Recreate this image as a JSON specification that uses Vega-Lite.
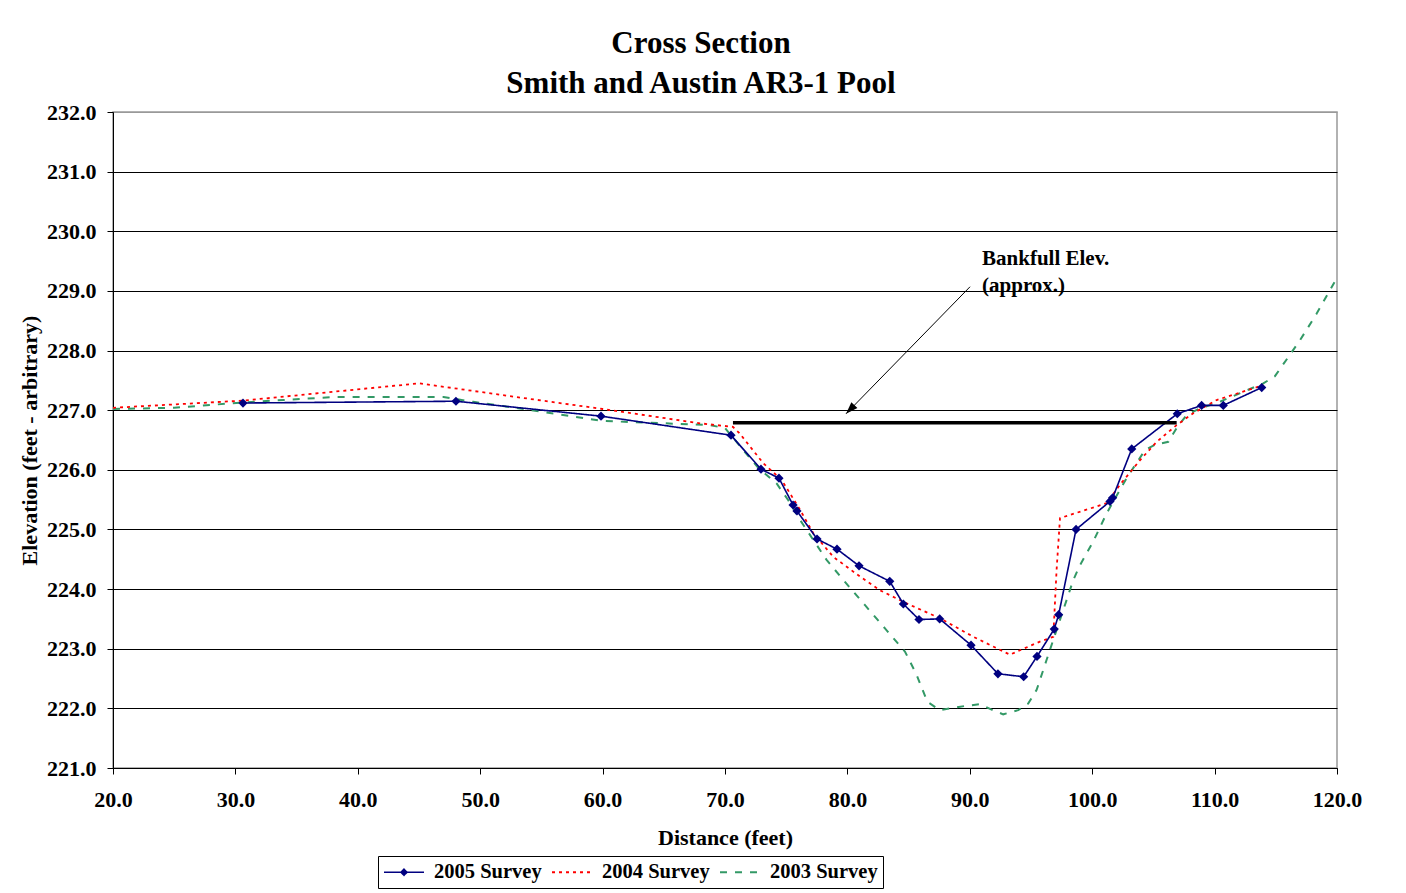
{
  "$schema": "https://vega.github.io/schema/vega-lite/v6.json",
  "width": 1224,
  "height": 656,
  "autosize": {"type": "none"},
  "padding": {"left": 113, "top": 112, "right": 69, "bottom": 125},
  "background": "white",
  "title": {
    "text": ["Cross Section", "Smith and Austin AR3-1 Pool"],
    "font": "Liberation Serif",
    "fontSize": 31,
    "fontWeight": "bold",
    "lineHeight": 40,
    "anchor": "middle",
    "offset": 1,
    "dx": -24,
    "color": "black"
  },
  "config": {
    "view": {"stroke": "#999999", "strokeWidth": 1.5},
    "axis": {
      "labelFont": "Liberation Serif",
      "labelFontSize": 22,
      "labelFontWeight": "bold",
      "labelColor": "black",
      "titleFont": "Liberation Serif",
      "titleFontSize": 22,
      "titleFontWeight": "bold",
      "titleColor": "black",
      "domainColor": "black",
      "tickColor": "black",
      "tickSize": 6
    },
    "legend": {
      "labelFont": "Liberation Serif",
      "labelFontSize": 20.5,
      "labelFontWeight": "bold",
      "labelColor": "black"
    }
  },
  "datasets": {
    "surveys": [
      {"survey": "2003 Survey", "d": 20.0, "e": 227.02},
      {"survey": "2003 Survey", "d": 25.0, "e": 227.04},
      {"survey": "2003 Survey", "d": 30.6, "e": 227.13},
      {"survey": "2003 Survey", "d": 38.0, "e": 227.22},
      {"survey": "2003 Survey", "d": 47.0, "e": 227.22},
      {"survey": "2003 Survey", "d": 49.43, "e": 227.14},
      {"survey": "2003 Survey", "d": 51.86, "e": 227.07},
      {"survey": "2003 Survey", "d": 60.0, "e": 226.82},
      {"survey": "2003 Survey", "d": 68.77, "e": 226.75},
      {"survey": "2003 Survey", "d": 70.0, "e": 226.70},
      {"survey": "2003 Survey", "d": 71.5, "e": 226.33},
      {"survey": "2003 Survey", "d": 72.73, "e": 226.03},
      {"survey": "2003 Survey", "d": 74.22, "e": 225.77},
      {"survey": "2003 Survey", "d": 75.17, "e": 225.49},
      {"survey": "2003 Survey", "d": 76.13, "e": 225.16},
      {"survey": "2003 Survey", "d": 76.94, "e": 224.91},
      {"survey": "2003 Survey", "d": 78.3, "e": 224.49},
      {"survey": "2003 Survey", "d": 79.8, "e": 224.12},
      {"survey": "2003 Survey", "d": 81.44, "e": 223.73},
      {"survey": "2003 Survey", "d": 83.07, "e": 223.34},
      {"survey": "2003 Survey", "d": 84.71, "e": 222.95},
      {"survey": "2003 Survey", "d": 85.66, "e": 222.56},
      {"survey": "2003 Survey", "d": 86.53, "e": 222.11},
      {"survey": "2003 Survey", "d": 87.56, "e": 221.97},
      {"survey": "2003 Survey", "d": 89.6, "e": 222.04},
      {"survey": "2003 Survey", "d": 90.83, "e": 222.07},
      {"survey": "2003 Survey", "d": 91.78, "e": 221.98},
      {"survey": "2003 Survey", "d": 92.73, "e": 221.9},
      {"survey": "2003 Survey", "d": 93.96, "e": 221.97},
      {"survey": "2003 Survey", "d": 94.77, "e": 222.08},
      {"survey": "2003 Survey", "d": 95.46, "e": 222.31},
      {"survey": "2003 Survey", "d": 96.27, "e": 222.81},
      {"survey": "2003 Survey", "d": 97.36, "e": 223.48},
      {"survey": "2003 Survey", "d": 98.45, "e": 224.15},
      {"survey": "2003 Survey", "d": 99.0, "e": 224.4},
      {"survey": "2003 Survey", "d": 100.09, "e": 224.8},
      {"survey": "2003 Survey", "d": 101.18, "e": 225.27},
      {"survey": "2003 Survey", "d": 102.81, "e": 225.86},
      {"survey": "2003 Survey", "d": 104.31, "e": 226.33},
      {"survey": "2003 Survey", "d": 105.13, "e": 226.42},
      {"survey": "2003 Survey", "d": 106.22, "e": 226.47},
      {"survey": "2003 Survey", "d": 106.9, "e": 226.7},
      {"survey": "2003 Survey", "d": 107.72, "e": 226.92},
      {"survey": "2003 Survey", "d": 108.8, "e": 227.03},
      {"survey": "2003 Survey", "d": 110.17, "e": 227.12},
      {"survey": "2003 Survey", "d": 113.98, "e": 227.45},
      {"survey": "2003 Survey", "d": 114.93, "e": 227.57},
      {"survey": "2003 Survey", "d": 116.97, "e": 228.17},
      {"survey": "2003 Survey", "d": 118.34, "e": 228.62},
      {"survey": "2003 Survey", "d": 120.0, "e": 229.22},
      {"survey": "2004 Survey", "d": 20.0, "e": 227.04},
      {"survey": "2004 Survey", "d": 30.6, "e": 227.16},
      {"survey": "2004 Survey", "d": 45.03, "e": 227.45},
      {"survey": "2004 Survey", "d": 52.98, "e": 227.22},
      {"survey": "2004 Survey", "d": 60.0, "e": 227.02},
      {"survey": "2004 Survey", "d": 67.96, "e": 226.78},
      {"survey": "2004 Survey", "d": 70.65, "e": 226.72},
      {"survey": "2004 Survey", "d": 71.2, "e": 226.61},
      {"survey": "2004 Survey", "d": 73.13, "e": 226.11},
      {"survey": "2004 Survey", "d": 74.63, "e": 225.83},
      {"survey": "2004 Survey", "d": 76.13, "e": 225.33},
      {"survey": "2004 Survey", "d": 77.2, "e": 224.94},
      {"survey": "2004 Survey", "d": 78.85, "e": 224.54},
      {"survey": "2004 Survey", "d": 81.03, "e": 224.21},
      {"survey": "2004 Survey", "d": 82.66, "e": 223.98},
      {"survey": "2004 Survey", "d": 84.84, "e": 223.76},
      {"survey": "2004 Survey", "d": 87.57, "e": 223.51},
      {"survey": "2004 Survey", "d": 90.29, "e": 223.2},
      {"survey": "2004 Survey", "d": 93.28, "e": 222.9},
      {"survey": "2004 Survey", "d": 95.73, "e": 223.12},
      {"survey": "2004 Survey", "d": 96.82, "e": 223.2},
      {"survey": "2004 Survey", "d": 97.09, "e": 224.32},
      {"survey": "2004 Survey", "d": 97.37, "e": 225.19},
      {"survey": "2004 Survey", "d": 101.18, "e": 225.44},
      {"survey": "2004 Survey", "d": 102.27, "e": 225.75},
      {"survey": "2004 Survey", "d": 103.9, "e": 226.16},
      {"survey": "2004 Survey", "d": 105.27, "e": 226.47},
      {"survey": "2004 Survey", "d": 106.9, "e": 226.75},
      {"survey": "2004 Survey", "d": 108.26, "e": 226.95},
      {"survey": "2004 Survey", "d": 110.17, "e": 227.17},
      {"survey": "2004 Survey", "d": 113.98, "e": 227.42},
      {"survey": "2005 Survey", "d": 30.62, "e": 227.12},
      {"survey": "2005 Survey", "d": 48.02, "e": 227.15},
      {"survey": "2005 Survey", "d": 59.87, "e": 226.9},
      {"survey": "2005 Survey", "d": 70.49, "e": 226.58},
      {"survey": "2005 Survey", "d": 72.94, "e": 226.01},
      {"survey": "2005 Survey", "d": 74.41, "e": 225.86},
      {"survey": "2005 Survey", "d": 75.56, "e": 225.41},
      {"survey": "2005 Survey", "d": 75.88, "e": 225.31},
      {"survey": "2005 Survey", "d": 77.52, "e": 224.84},
      {"survey": "2005 Survey", "d": 79.15, "e": 224.67},
      {"survey": "2005 Survey", "d": 80.95, "e": 224.39},
      {"survey": "2005 Survey", "d": 83.46, "e": 224.13},
      {"survey": "2005 Survey", "d": 84.57, "e": 223.75},
      {"survey": "2005 Survey", "d": 85.85, "e": 223.49},
      {"survey": "2005 Survey", "d": 87.54, "e": 223.5},
      {"survey": "2005 Survey", "d": 90.1, "e": 223.06},
      {"survey": "2005 Survey", "d": 92.3, "e": 222.58},
      {"survey": "2005 Survey", "d": 94.4, "e": 222.53},
      {"survey": "2005 Survey", "d": 95.49, "e": 222.87},
      {"survey": "2005 Survey", "d": 96.9, "e": 223.33},
      {"survey": "2005 Survey", "d": 97.26, "e": 223.57},
      {"survey": "2005 Survey", "d": 98.68, "e": 225.0},
      {"survey": "2005 Survey", "d": 101.45, "e": 225.47},
      {"survey": "2005 Survey", "d": 101.67, "e": 225.53},
      {"survey": "2005 Survey", "d": 103.23, "e": 226.35},
      {"survey": "2005 Survey", "d": 106.95, "e": 226.94},
      {"survey": "2005 Survey", "d": 108.94, "e": 227.08},
      {"survey": "2005 Survey", "d": 110.71, "e": 227.08},
      {"survey": "2005 Survey", "d": 113.85, "e": 227.38}
    ],
    "bankfull": [
      {"d": 70.65, "d2": 106.9, "e": 226.79}
    ],
    "arrow": [
      {"d": 90.02, "e": 229.07, "d2": 79.89, "e2": 226.94}
    ],
    "labels": [
      {"d": 91.0, "e": 229.43, "t": "Bankfull Elev."},
      {"d": 91.0, "e": 228.98, "t": "(approx.)"}
    ]
  },
  "layer": [
    {
      "data": {"name": "surveys"},
      "mark": {"type": "line", "clip": true},
      "encoding": {
        "x": {
          "field": "d", "type": "quantitative",
          "scale": {"domain": [20, 120], "nice": false, "zero": false},
          "axis": {
            "title": "Distance (feet)",
            "values": [20, 30, 40, 50, 60, 70, 80, 90, 100, 110, 120],
            "format": ".1f",
            "grid": false,
            "labelPadding": 15,
            "titlePadding": 17,
            "labelFlush": false
          }
        },
        "y": {
          "field": "e", "type": "quantitative",
          "scale": {"domain": [221, 232], "nice": false, "zero": false},
          "axis": {
            "title": "Elevation (feet - arbitrary)",
            "values": [221, 222, 223, 224, 225, 226, 227, 228, 229, 230, 231, 232],
            "format": ".1f",
            "grid": true,
            "gridColor": {"condition": {"test": "datum.value === 232", "value": "#999999"}, "value": "black"},
            "gridWidth": 1,
            "labelPadding": 11,
            "titlePadding": 5
          }
        },
        "color": {
          "field": "survey", "type": "nominal",
          "scale": {"domain": ["2005 Survey", "2004 Survey", "2003 Survey"], "range": ["#000080", "#FF0000", "#339966"]},
          "legend": {
            "title": null,
            "orient": "none",
            "legendX": 265,
            "legendY": 744,
            "direction": "horizontal",
            "strokeColor": "black",
            "padding": 5,
            "symbolSize": 400,
            "symbolOffset": 10,
            "symbolType": "M-2,0H2",
            "labelOffset": 19,
            "columnPadding": 6,
            "fillColor": "white",
            "encode": {
              "symbols": {
                "update": {
                  "shape": {"signal": "datum.label === '2005 Survey' ? 'M-2,0H2M-0.3,0L0,-0.3L0.3,0L0,0.3Z' : 'M-2,0H2'"},
                  "fill": {"signal": "datum.label === '2005 Survey' ? '#000080' : 'transparent'"},
                  "strokeWidth": {"signal": "datum.label === '2005 Survey' ? 1.5 : datum.label === '2004 Survey' ? 2 : 3"}
                }
              }
            }
          }
        },
        "strokeDash": {
          "field": "survey", "type": "nominal",
          "scale": {"domain": ["2005 Survey", "2004 Survey", "2003 Survey"], "range": [[1, 0], [3, 4], [7, 8]]},
          "legend": {
            "title": null,
            "orient": "none",
            "legendX": 265,
            "legendY": 744,
            "direction": "horizontal"
          }
        },
        "strokeWidth": {
          "field": "survey", "type": "nominal",
          "scale": {"domain": ["2005 Survey", "2004 Survey", "2003 Survey"], "range": [1.6, 2, 3]},
          "legend": null
        }
      }
    },
    {
      "data": {"name": "surveys"},
      "transform": [{"filter": "datum.survey === '2005 Survey'"}],
      "mark": {"type": "point", "shape": "diamond", "filled": true, "size": 85, "color": "#000080", "opacity": 1},
      "encoding": {
        "x": {"field": "d", "type": "quantitative"},
        "y": {"field": "e", "type": "quantitative"}
      }
    },
    {
      "data": {"name": "bankfull"},
      "mark": {"type": "rule", "color": "black", "strokeWidth": 3.5},
      "encoding": {
        "x": {"field": "d", "type": "quantitative"},
        "x2": {"field": "d2"},
        "y": {"field": "e", "type": "quantitative"}
      }
    },
    {
      "data": {"name": "arrow"},
      "mark": {"type": "rule", "color": "black", "strokeWidth": 1},
      "encoding": {
        "x": {"field": "d", "type": "quantitative"},
        "x2": {"field": "d2"},
        "y": {"field": "e", "type": "quantitative"},
        "y2": {"field": "e2"}
      }
    },
    {
      "data": {"name": "arrow"},
      "mark": {"type": "point", "shape": "M0,0L-0.35,-1L0.35,-1Z", "filled": true, "color": "black", "size": 576, "angle": 44, "opacity": 1},
      "encoding": {
        "x": {"field": "d2", "type": "quantitative"},
        "y": {"field": "e2", "type": "quantitative"}
      }
    },
    {
      "data": {"name": "labels"},
      "mark": {"type": "text", "font": "Liberation Serif", "fontSize": 21, "fontWeight": "bold", "align": "left", "baseline": "alphabetic", "color": "black"},
      "encoding": {
        "x": {"field": "d", "type": "quantitative"},
        "y": {"field": "e", "type": "quantitative"},
        "text": {"field": "t"}
      }
    }
  ]
}
